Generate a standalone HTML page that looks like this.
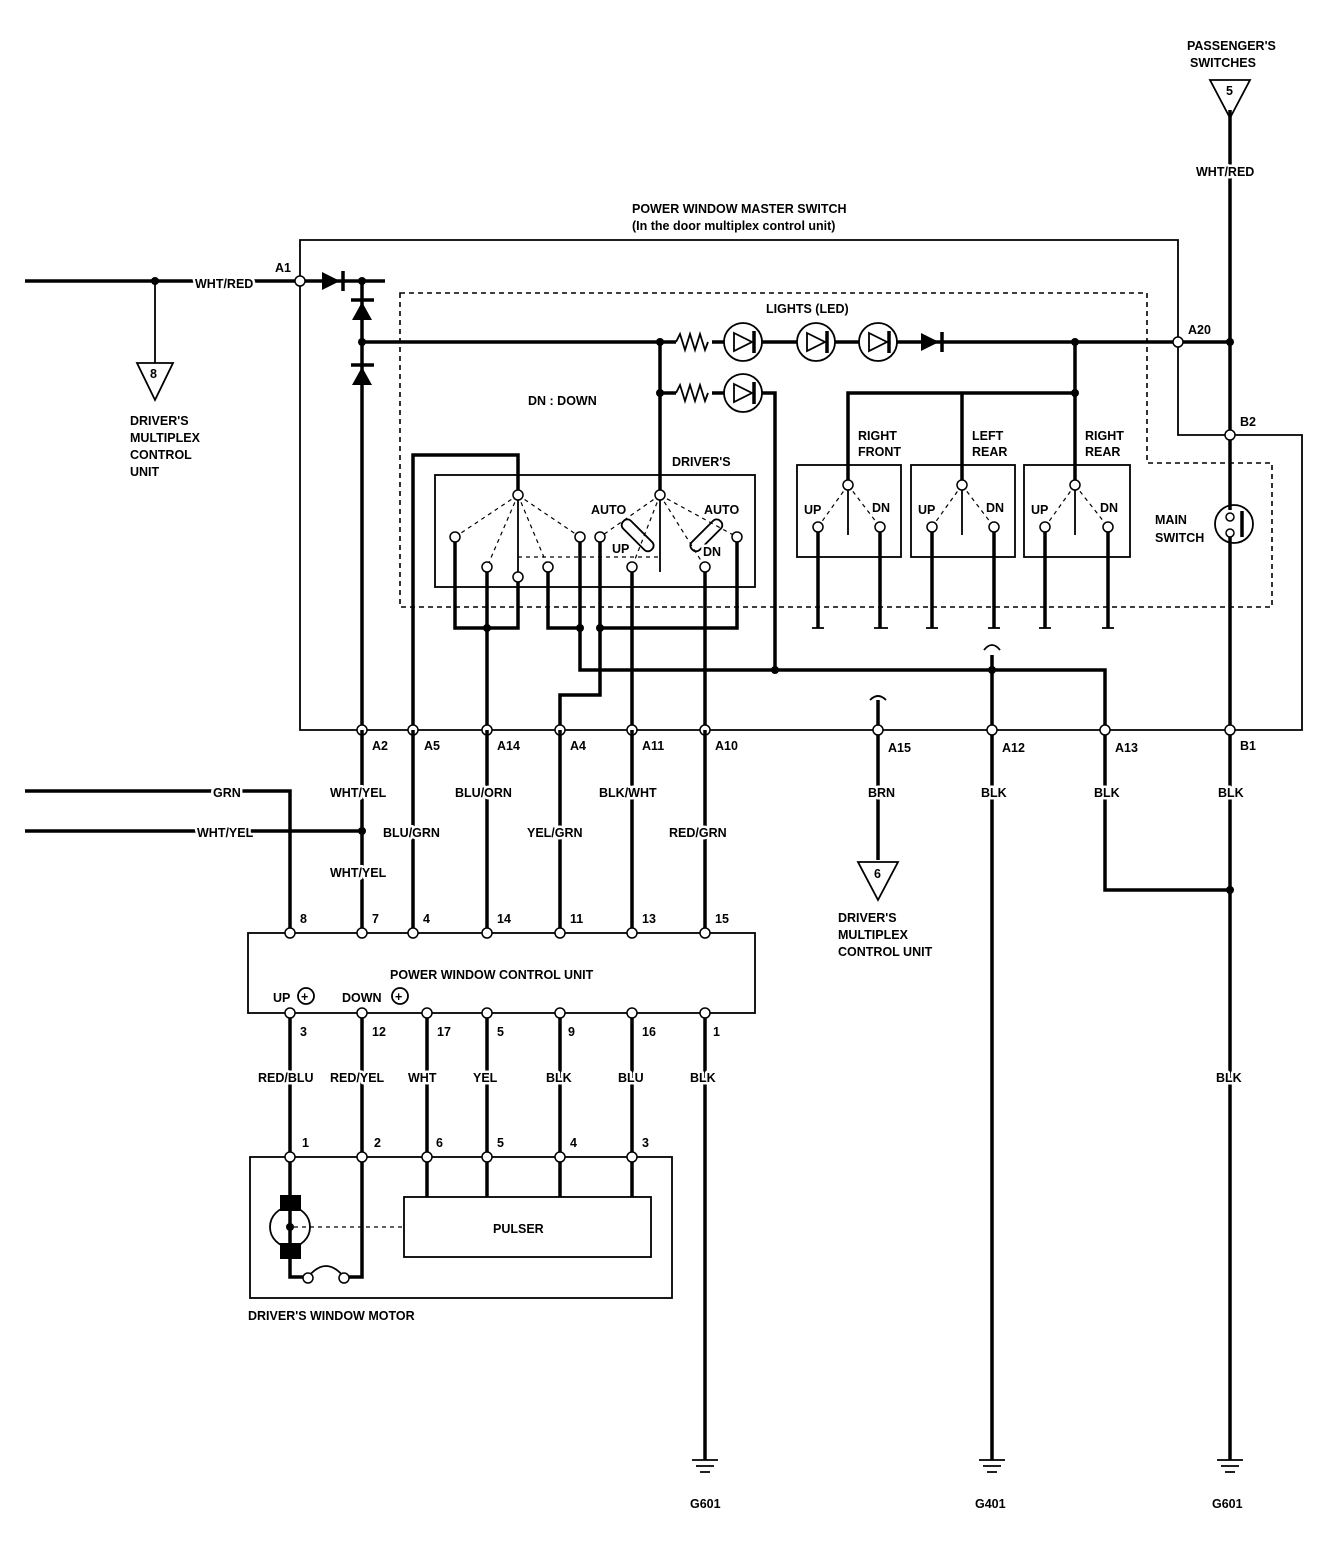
<!DOCTYPE html>
<html><head><meta charset="utf-8"><style>
html,body{margin:0;padding:0;background:#fff;}
svg{display:block}
text{font-family:"Liberation Sans",sans-serif;font-weight:bold;font-size:12.5px;fill:#000;stroke:#fff;stroke-width:5px;paint-order:stroke;stroke-linejoin:round}
.h{stroke:#000;stroke-width:3.5;fill:none}
.t{stroke:#000;stroke-width:1.8;fill:none}
.d{stroke:#000;stroke-width:1.6;fill:none;stroke-dasharray:5,4}
.dt{stroke:#000;stroke-width:1.2;fill:none;stroke-dasharray:4,4}
.o{fill:#fff;stroke:#000;stroke-width:1.5}
</style></head><body>
<svg width="1344" height="1558" viewBox="0 0 1344 1558" xmlns="http://www.w3.org/2000/svg">
<path class="t" d="M300 240 H1178 V435 H1302 V730 H300 Z"/>
<path class="d" d="M400 293 H1147 V463 H1272 V607 H400 Z"/>

<path class="h" d="M25 281 H300"/>
<path class="t" d="M155 281 V363"/>
<circle cx="155" cy="281" r="4"/>
<path class="t" d="M137 363 H173 L155 400 Z"/>
<text x="150" y="378" font-size="9">8</text>
<text x="195" y="288">WHT/RED</text>
<text x="275" y="272">A1</text>
<text x="130" y="425">DRIVER'S</text><text x="130" y="442">MULTIPLEX</text><text x="130" y="459">CONTROL</text><text x="130" y="476">UNIT</text>
<path class="h" d="M300 281 H385"/>
<path d="M322 272 L340 281 L322 290 Z"/><path class="h" d="M343 271 V291"/>
<circle cx="362" cy="281" r="4"/>
<path class="h" d="M362 281 V730"/>
<path class="h" d="M351 300 H374"/><path d="M352 320 L362 302 L372 320 Z"/>
<circle cx="362" cy="342" r="4"/>
<path class="h" d="M351 365 H374"/><path d="M352 385 L362 367 L372 385 Z"/>
<circle class="o" cx="300" cy="281" r="5"/>

<path class="h" d="M362 342 H676 M712 342 H1230"/>
<path class="t" d="M676 342 l4 -8 l5 16 l5 -16 l5 16 l5 -16 l5 16 l3 -8"/>
<g class="t"><circle cx="743" cy="342" r="19" fill="#fff"/><circle cx="816" cy="342" r="19" fill="#fff"/><circle cx="878" cy="342" r="19" fill="#fff"/></g>
<g class="t"><path d="M734 333 L752 342 L734 351 Z"/><path d="M807 333 L825 342 L807 351 Z"/><path d="M869 333 L887 342 L869 351 Z"/></g>
<path class="h" d="M754 331 V353 M827 331 V353 M889 331 V353"/>
<path d="M921 333 L939 342 L921 351 Z"/><path class="h" d="M942 332 V352"/>
<text x="766" y="313">LIGHTS (LED)</text>
<circle cx="660" cy="342" r="4"/><circle cx="1075" cy="342" r="4"/><circle cx="1230" cy="342" r="4"/>
<circle class="o" cx="1178" cy="342" r="5"/>
<text x="1188" y="334">A20</text>
<path class="h" d="M660 342 V495"/>
<circle cx="660" cy="393" r="4"/>
<path class="h" d="M660 393 H676 M712 393 H724 M762 393 H775 V670"/>
<path class="t" d="M676 393 l4 -8 l5 16 l5 -16 l5 16 l5 -16 l5 16 l3 -8"/>
<circle class="t" cx="743" cy="393" r="19" fill="#fff"/>
<path class="t" d="M734 384 L752 393 L734 402 Z"/><path class="h" d="M754 382 V404"/>
<text x="528" y="405">DN : DOWN</text>

<path class="h" d="M1230 110 V510 M1230 537 V1460"/>
<path class="t" d="M1210 80 H1250 L1230 118 Z"/>
<text x="1226" y="95" font-size="9">5</text>
<text x="1187" y="50">PASSENGER'S</text><text x="1190" y="67">SWITCHES</text>
<text x="1196" y="176">WHT/RED</text>
<text x="632" y="213">POWER WINDOW MASTER SWITCH</text>
<text x="632" y="230" font-size="11">(In the door multiplex control unit)</text>
<circle class="o" cx="1230" cy="435" r="5"/><text x="1240" y="426">B2</text>
<circle class="t" cx="1234" cy="524" r="19" fill="#fff"/>
<circle class="o" cx="1230" cy="517" r="4"/><circle class="o" cx="1230" cy="533" r="4"/>
<path class="h" d="M1242 511 V537"/>
<text x="1155" y="524">MAIN</text><text x="1155" y="542">SWITCH</text>

<path class="h" d="M1075 342 V393 H848 V485 M962 393 V485 M1075 393 V485"/>
<circle cx="1075" cy="393" r="4"/>
<g class="t"><rect x="797" y="465" width="104" height="92"/><rect x="911" y="465" width="104" height="92"/><rect x="1024" y="465" width="106" height="92"/></g>
<g>
<path class="t" d="M848 485 V535 M962 485 V535 M1075 485 V535"/>
<path class="dt" d="M848 485 L818 527 M848 485 L880 527 M962 485 L932 527 M962 485 L994 527 M1075 485 L1045 527 M1075 485 L1108 527"/>
<path class="h" d="M818 527 V628 M880 527 V628 M932 527 V628 M994 527 V628 M1045 527 V628 M1108 527 V628"/>
<path class="t" d="M812 628 H824 M874 628 H888 M926 628 H938 M988 628 H1000 M1039 628 H1051 M1102 628 H1114"/>
<g class="o"><circle cx="848" cy="485" r="5"/><circle cx="818" cy="527" r="5"/><circle cx="880" cy="527" r="5"/><circle cx="962" cy="485" r="5"/><circle cx="932" cy="527" r="5"/><circle cx="994" cy="527" r="5"/><circle cx="1075" cy="485" r="5"/><circle cx="1045" cy="527" r="5"/><circle cx="1108" cy="527" r="5"/></g>
</g>
<text x="858" y="440">RIGHT</text><text x="858" y="456">FRONT</text>
<text x="972" y="440">LEFT</text><text x="972" y="456">REAR</text>
<text x="1085" y="440">RIGHT</text><text x="1085" y="456">REAR</text>
<text x="804" y="514">UP</text><text x="872" y="512">DN</text>
<text x="918" y="514">UP</text><text x="986" y="512">DN</text>
<text x="1031" y="514">UP</text><text x="1100" y="512">DN</text>

<rect class="t" x="435" y="475" width="320" height="112"/>
<text x="672" y="466">DRIVER'S</text>
<path class="h" d="M413 730 V455 H518 V495"/>
<path class="t" d="M518 495 V577 M660 495 V572"/>
<path class="dt" d="M518 495 L455 537 M518 495 L487 567 M518 495 L548 567 M518 495 L580 537 M660 495 L600 537 M660 495 L632 567 M660 495 L705 567 M660 495 L737 537 M518 557 H660"/>
<path class="h" d="M455 537 V628 H518 V577 M487 567 V730 M548 567 V628 H580 M580 537 V670 H1105 V730 M600 537 V695 H560 V730 M600 628 H737 V537 M632 567 V730 M705 567 V730"/>
<circle cx="487" cy="628" r="4"/><circle cx="580" cy="628" r="4"/><circle cx="600" cy="628" r="4"/><circle cx="775" cy="670" r="4"/><circle cx="992" cy="670" r="4"/>
<g class="t"><rect x="618" y="530" width="40" height="11" rx="5" transform="rotate(45 638 535)"/><rect x="686" y="530" width="40" height="11" rx="5" transform="rotate(-45 706 535)"/></g>
<g class="o"><circle cx="518" cy="495" r="5"/><circle cx="455" cy="537" r="5"/><circle cx="487" cy="567" r="5"/><circle cx="518" cy="577" r="5"/><circle cx="548" cy="567" r="5"/><circle cx="580" cy="537" r="5"/><circle cx="660" cy="495" r="5"/><circle cx="600" cy="537" r="5"/><circle cx="632" cy="567" r="5"/><circle cx="705" cy="567" r="5"/><circle cx="737" cy="537" r="5"/></g>
<text x="591" y="514">AUTO</text><text x="704" y="514">AUTO</text><text x="612" y="553">UP</text><text x="703" y="556">DN</text>

<path class="h" d="M992 655 V1460"/>
<path class="t" d="M984 650 Q992 640 1000 650"/>
<path class="h" d="M878 700 V860"/>
<path class="t" d="M870 700 Q878 692 886 700"/>
<path class="t" d="M858 862 H898 L878 900 Z"/>
<text x="874" y="878" font-size="9">6</text>
<text x="838" y="922">DRIVER'S</text><text x="838" y="939">MULTIPLEX</text><text x="838" y="956">CONTROL UNIT</text>
<path class="h" d="M1105 730 V890 H1230"/><circle cx="1230" cy="890" r="4"/>

<g class="o"><circle cx="362" cy="730" r="5"/><circle cx="413" cy="730" r="5"/><circle cx="487" cy="730" r="5"/><circle cx="560" cy="730" r="5"/><circle cx="632" cy="730" r="5"/><circle cx="705" cy="730" r="5"/><circle cx="878" cy="730" r="5"/><circle cx="992" cy="730" r="5"/><circle cx="1105" cy="730" r="5"/><circle cx="1230" cy="730" r="5"/></g>
<text x="372" y="750">A2</text><text x="424" y="750">A5</text><text x="497" y="750">A14</text><text x="570" y="750">A4</text><text x="642" y="750">A11</text><text x="715" y="750">A10</text><text x="888" y="752">A15</text><text x="1002" y="752">A12</text><text x="1115" y="752">A13</text><text x="1240" y="750">B1</text>

<path class="h" d="M25 791 H290 V933 M25 831 H362 M362 730 V933 M413 730 V933 M487 730 V933 M560 730 V933 M632 730 V933 M705 730 V933"/>
<circle cx="362" cy="831" r="4"/>
<text x="213" y="797">GRN</text><text x="197" y="837">WHT/YEL</text>
<text x="330" y="797">WHT/YEL</text><text x="330" y="877">WHT/YEL</text>
<text x="383" y="837">BLU/GRN</text><text x="455" y="797">BLU/ORN</text><text x="527" y="837">YEL/GRN</text><text x="599" y="797">BLK/WHT</text><text x="669" y="837">RED/GRN</text>
<text x="868" y="797">BRN</text><text x="981" y="797">BLK</text><text x="1094" y="797">BLK</text><text x="1218" y="797">BLK</text>

<rect class="t" x="248" y="933" width="507" height="80"/>
<text x="390" y="979">POWER WINDOW CONTROL UNIT</text>
<text x="273" y="1002">UP</text><circle class="t" cx="306" cy="996" r="8"/><text x="301" y="1001">+</text>
<text x="342" y="1002">DOWN</text><circle class="t" cx="400" cy="996" r="8"/><text x="395" y="1001">+</text>
<g class="o"><circle cx="290" cy="933" r="5"/><circle cx="362" cy="933" r="5"/><circle cx="413" cy="933" r="5"/><circle cx="487" cy="933" r="5"/><circle cx="560" cy="933" r="5"/><circle cx="632" cy="933" r="5"/><circle cx="705" cy="933" r="5"/></g>
<text x="300" y="923">8</text><text x="372" y="923">7</text><text x="423" y="923">4</text><text x="497" y="923">14</text><text x="570" y="923">11</text><text x="642" y="923">13</text><text x="715" y="923">15</text>
<path class="h" d="M290 1013 V1157 M362 1013 V1277 H345 M427 1013 V1197 M487 1013 V1197 M560 1013 V1197 M632 1013 V1197 M705 1013 V1460"/>
<g class="o"><circle cx="290" cy="1013" r="5"/><circle cx="362" cy="1013" r="5"/><circle cx="427" cy="1013" r="5"/><circle cx="487" cy="1013" r="5"/><circle cx="560" cy="1013" r="5"/><circle cx="632" cy="1013" r="5"/><circle cx="705" cy="1013" r="5"/></g>
<text x="300" y="1036">3</text><text x="372" y="1036">12</text><text x="437" y="1036">17</text><text x="497" y="1036">5</text><text x="568" y="1036">9</text><text x="642" y="1036">16</text><text x="713" y="1036">1</text>
<text x="258" y="1082">RED/BLU</text><text x="330" y="1082">RED/YEL</text><text x="408" y="1082">WHT</text><text x="473" y="1082">YEL</text><text x="546" y="1082">BLK</text><text x="618" y="1082">BLU</text><text x="690" y="1082">BLK</text><text x="1216" y="1082">BLK</text>

<rect class="t" x="250" y="1157" width="422" height="141"/>
<g class="o"><circle cx="290" cy="1157" r="5"/><circle cx="362" cy="1157" r="5"/><circle cx="427" cy="1157" r="5"/><circle cx="487" cy="1157" r="5"/><circle cx="560" cy="1157" r="5"/><circle cx="632" cy="1157" r="5"/></g>
<text x="302" y="1147">1</text><text x="374" y="1147">2</text><text x="436" y="1147">6</text><text x="497" y="1147">5</text><text x="570" y="1147">4</text><text x="642" y="1147">3</text>
<rect class="t" x="404" y="1197" width="247" height="60"/>
<text x="493" y="1233">PULSER</text>
<path class="h" d="M290 1162 V1277 H303"/>
<rect x="280" y="1195" width="21" height="16"/><rect x="280" y="1243" width="21" height="16"/>
<circle class="t" cx="290" cy="1227" r="20" fill="#fff"/><circle cx="290" cy="1227" r="4"/>
<path class="dt" d="M294 1227 H404"/>
<path class="t" d="M308 1277 Q326 1255 344 1277"/>
<circle class="o" cx="308" cy="1278" r="5"/><circle class="o" cx="344" cy="1278" r="5"/>
<text x="248" y="1320">DRIVER'S WINDOW MOTOR</text>

<g class="t">
<path d="M692 1460 H718 M696 1466 H714 M700 1472 H710"/>
<path d="M979 1460 H1005 M983 1466 H1001 M987 1472 H997"/>
<path d="M1217 1460 H1243 M1221 1466 H1239 M1225 1472 H1235"/>
</g>
<text x="690" y="1508">G601</text><text x="975" y="1508">G401</text><text x="1212" y="1508">G601</text>
</svg>
</body></html>
